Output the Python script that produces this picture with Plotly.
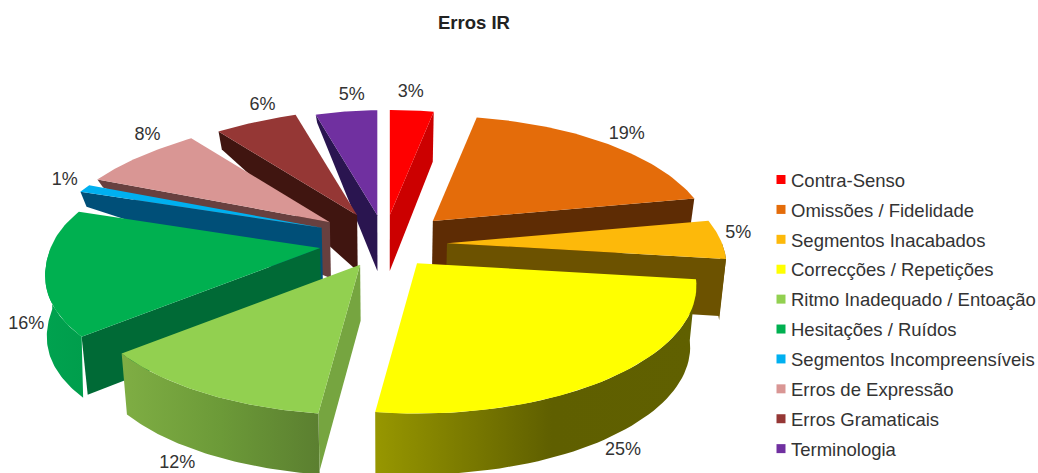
import numpy as np
import plotly.graph_objects as go

# ---- data ----
categories = ["Contra-Senso", "Omissões / Fidelidade", "Segmentos Inacabados",
              "Correcções / Repetições", "Ritmo Inadequado / Entoação", "Hesitações / Ruídos",
              "Segmentos Incompreensíveis", "Erros de Expressão", "Erros Gramaticais", "Terminologia"]
values = [3, 19, 5, 25, 12, 16, 1, 8, 6, 5]
title_text = "Erros IR"

# ---- style ----
top_colors = ["#ff0000", "#e46c0a", "#fdb90a", "#ffff00", "#92d050",
              "#00b050", "#00b0f0", "#d99694", "#953735", "#7030a0"]
side_colors = ["#cc0000", "#5e2c04", "#6c5200", "#606000", "#76a540",
               "#006a36", "#004f78", "#68403f", "#401510", "#2a1550"]
outer_colors = {
    2: [[0, "#6c5200"], [1, "#6c5200"]],
    3: [[0, "#979700"], [0.55, "#5f5f00"], [1, "#606000"]],
    4: [[0, "#7fae44"], [0.5, "#6c9a38"], [1, "#5b7f30"]],
    5: [[0, "#00a24f"], [1, "#009e4c"]],
}
text_color = "#333333"

# ---- projection of the pie (pixel space) ----
W, H = 1038, 473
CX, CY = 385, 242
RX, RY, K = 275, 123.6, 0.177     # disc radii and perspective strength
EX, EY = 62, 27                   # explosion distance
SHRINK = 0.98                     # convergence of vertical edges
SHRINK_LEFT_WALL = 0.995
APEX_DEPTH = 56
OUTER_DEPTH = 61
slice_nudge = [(-1, 0), (4, -2), (0, 2), (-6, 0), (5, -1), (-4, 1), (-5, -5), (-5, -4), (2, -3), (2, 0)]
rim_depth = [50, 45, 57, 0, 57, 58, 15, 8, 18, 8]
label_offset = [(-1, -18), (21, -9), (18, -6), (10, 74), (-26, 71), (-19, 52),
                (-20, -8), (7, -21), (5, -16), (5, -16)]


def disc(theta):
    u, v = np.sin(theta), -np.cos(theta)
    s = 1 / (1 - K * v)
    # the camera sits right of centre: the back-left part of the rim is narrower
    f = 1 - 0.02 * np.exp(-(v / 0.4) ** 2) - 0.17 * np.where(v < 0, v * v, 0)
    f = np.where(u < 0, f, 1.0)
    return RX * u * s * f, RY * v * s


def drop(x, y, d, shrink=SHRINK):
    return CX + (np.asarray(x) - CX) * shrink, np.asarray(y) + d


fig = go.Figure()


def poly(x, y, color=None, gradient=None):
    x, y = np.asarray(x, float), np.asarray(y, float)
    kw = dict(fillgradient=dict(type="horizontal", colorscale=gradient)) if gradient else dict(fillcolor=color)
    fig.add_trace(go.Scatter(x=np.r_[x, x[0]], y=np.r_[y, y[0]], mode="lines", fill="toself",
                             line=dict(width=0), hoverinfo="skip", showlegend=False, **kw))


total = sum(values)
edges = np.cumsum([0] + values) / total * 2 * np.pi
mids = (edges[:-1] + edges[1:]) / 2
apex = [(CX + EX * np.sin(m) + n[0], CY - EY * np.cos(m) + n[1]) for m, n in zip(mids, slice_nudge)]
order = np.argsort(-np.cos(mids))

label_x, label_y, label_t = [], [], []
for i in order:
    t1, t2 = edges[i], edges[i + 1]
    ax, ay = apex[i]
    th = np.linspace(t1, t2, 50)
    dx, dy = disc(th)
    rx, ry = ax + dx, ay + dy

    # radial wall that faces the viewer
    if rim_depth[i] > 0:
        j = -1 if i < 3 else 0
        bax, bay = drop(ax, ay, APEX_DEPTH)
        brx, bry = drop(rx[j], ry[j], rim_depth[i])
        poly([ax, rx[j], brx, bax], [ay, ry[j], bry, bay], color=side_colors[i])

    # outer curved wall, only the arc on the viewer's side
    lo, hi = max(t1, np.pi / 2), min(t2, 1.5 * np.pi)
    if hi > lo and i in outer_colors:
        wt = np.linspace(lo, hi, 50)
        wx, wy = disc(wt)
        wx, wy = ax + wx, ay + wy
        bx, by = drop(wx, wy, OUTER_DEPTH, SHRINK_LEFT_WALL if i == 5 else SHRINK)
        poly(np.r_[wx, bx[::-1]], np.r_[wy, by[::-1]], gradient=outer_colors[i])

    # top face
    poly(np.r_[ax, rx], np.r_[ay, ry], color=top_colors[i])

    mx, my = disc(mids[i])
    label_x.append(ax + float(mx) + label_offset[i][0])
    label_y.append(ay + float(my) + label_offset[i][1])
    label_t.append(f"{values[i]}%")

fig.add_trace(go.Scatter(x=label_x, y=label_y, text=label_t, mode="text", showlegend=False,
                         textposition="middle center", hoverinfo="skip",
                         textfont=dict(family="Liberation Sans, Arial, sans-serif", size=18, color=text_color)))

# legend entries
for name, c in zip(categories, top_colors):
    fig.add_trace(go.Scatter(x=[None], y=[None], mode="markers", name=name, legendgroup=name,
                             marker=dict(symbol="square", size=9, color=c)))

fig.update_layout(
    width=W, height=H, margin=dict(l=0, r=0, t=0, b=0, autoexpand=False),
    paper_bgcolor="white", plot_bgcolor="white", autosize=False,
    xaxis=dict(range=[0, W], visible=False, fixedrange=True),
    yaxis=dict(range=[H, 0], visible=False, fixedrange=True),
    title=dict(text=f"<b>{title_text}</b>", x=474 / W, xanchor="center", y=1 - 23 / H, yanchor="middle",
               font=dict(family="Liberation Sans, Arial, sans-serif", size=18.5, color="#222222")),
    legend=dict(x=751 / W, y=1 - 161 / H, xanchor="left", yanchor="top", tracegroupgap=2.85,
                font=dict(family="Liberation Sans, Arial, sans-serif", size=18.5, color="#333333"),
                bgcolor="rgba(0,0,0,0)", itemclick=False, itemdoubleclick=False),
)

fig.write_html("out.html", config={"displayModeBar": False},
               post_script="document.body.style.margin='0';document.body.style.overflow='hidden';"
                           "document.querySelectorAll('.legendsymbols').forEach(function(g){"
                           "g.setAttribute('transform','translate(10,0)');});")
